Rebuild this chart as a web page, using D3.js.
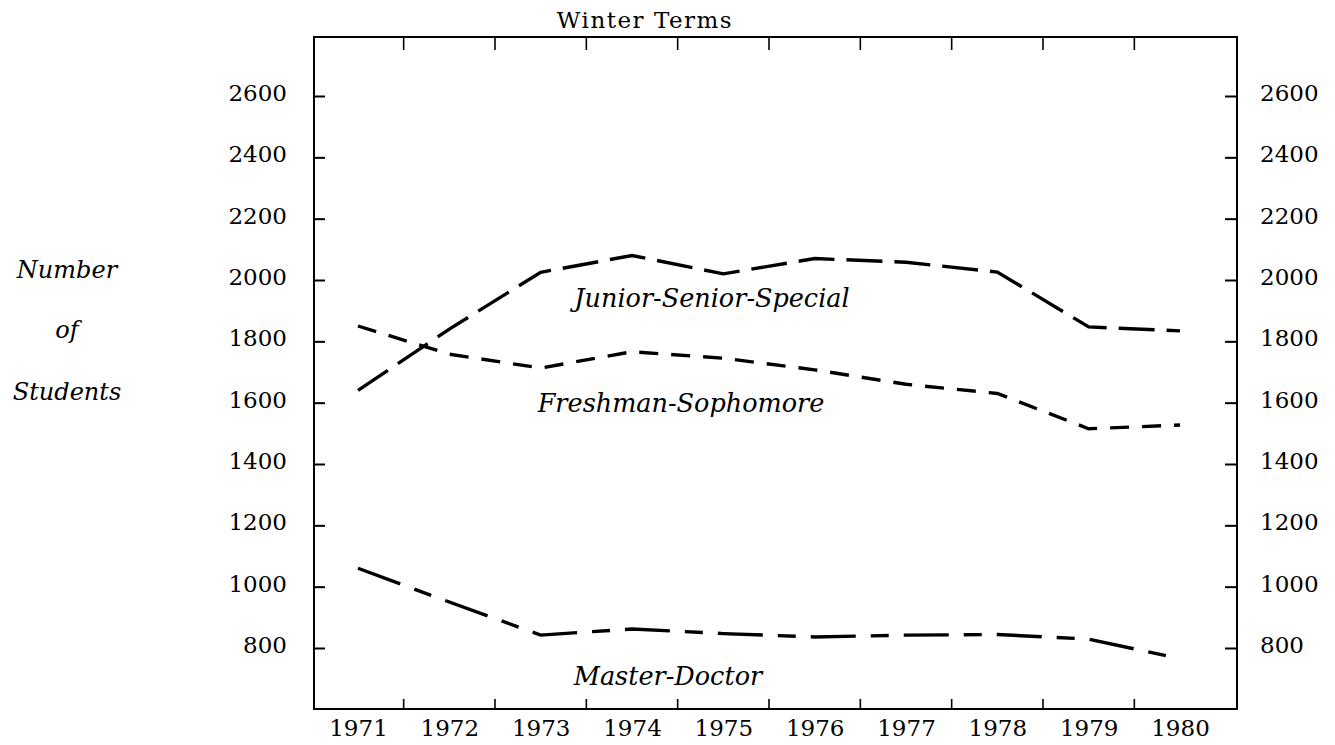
<!DOCTYPE html>
<html>
<head>
<meta charset="utf-8">
<script src="https://cdn.jsdelivr.net/npm/d3@7"></script>
<style>
  html, body { margin: 0; padding: 0; background: #fff; }
  svg { display: block; }
</style>
</head>
<body>
<svg id="chart" width="1335" height="745"></svg>
<script>
// ---- data ----
const years = [1971, 1972, 1973, 1974, 1975, 1976, 1977, 1978, 1979, 1980];
const juniorSeniorSpecial = [1640, 1840, 2025, 2080, 2020, 2070, 2058, 2026, 1847, 1834];
const freshmanSophomore   = [1850, 1758, 1713, 1766, 1745, 1707, 1660, 1630, 1515, 1527];
const masterDoctor        = [1060, 950, 842, 862, 847, 836, 842, 844, 829, 765];
const yTickValues = [800, 1000, 1200, 1400, 1600, 1800, 2000, 2200, 2400, 2600];
const seriesNames = ["Junior-Senior-Special", "Freshman-Sophomore", "Master-Doctor"];
const chartTitle = "Winter Terms";
const yTitle = ["Number", "of", "Students"];

// ---- layout ----
const frame = { left: 314, right: 1237, top: 37, bottom: 709 };
const svg = d3.select("#chart");
const serif = "'DejaVu Serif', serif";

const x = d3.scalePoint().domain(years).range([358, 1180]);
const y = d3.scaleLinear().domain([800, 2600]).range([648, 96]);

// frame
svg.append("rect")
  .attr("x", frame.left).attr("y", frame.top)
  .attr("width", frame.right - frame.left).attr("height", frame.bottom - frame.top)
  .attr("fill", "none").attr("stroke", "#000").attr("stroke-width", 2);

// boundary ticks (between years) on top and bottom
const bounds = years.slice(1).map((yr, i) => (x(years[i]) + x(yr)) / 2);
svg.append("g").selectAll("line").data(bounds).join("line")
  .attr("x1", d => d).attr("x2", d => d)
  .attr("y1", frame.top).attr("y2", frame.top + 13)
  .attr("stroke", "#000").attr("stroke-width", 1.6);
svg.append("g").selectAll("line").data(bounds).join("line")
  .attr("x1", d => d).attr("x2", d => d)
  .attr("y1", frame.bottom).attr("y2", frame.bottom - 10)
  .attr("stroke", "#000").attr("stroke-width", 1.6);

// bottom year labels
const xAxis = svg.append("g")
  .attr("transform", `translate(0,${frame.bottom})`)
  .call(d3.axisBottom(x).tickSize(0).tickPadding(11));
xAxis.select(".domain").remove();
xAxis.selectAll("text").attr("font-family", serif).attr("font-size", 23).attr("fill", "#000");

// left axis
const yl = svg.append("g")
  .attr("transform", `translate(${frame.left},0)`)
  .call(d3.axisLeft(y).tickValues(yTickValues).tickSize(-11).tickPadding(27).tickFormat(d3.format("d")));
yl.select(".domain").remove();
yl.selectAll("line").attr("stroke", "#000").attr("stroke-width", 2);
yl.selectAll("text").attr("font-family", serif).attr("font-size", 23).attr("fill", "#000").attr("dy", "0.2em");

// right axis
const yr = svg.append("g")
  .attr("transform", `translate(${frame.right},0)`)
  .call(d3.axisRight(y).tickValues(yTickValues).tickSize(-12).tickPadding(23).tickFormat(d3.format("d")));
yr.select(".domain").remove();
yr.selectAll("line").attr("stroke", "#000").attr("stroke-width", 2);
yr.selectAll("text").attr("font-family", serif).attr("font-size", 23).attr("fill", "#000").attr("dy", "0.2em");

// title
svg.append("text")
  .attr("x", 645).attr("y", 28).attr("text-anchor", "middle")
  .attr("font-family", serif).attr("font-size", 23).attr("letter-spacing", 1.5)
  .text(chartTitle);

// y title (italic, stacked)
const yTitleY = [278, 338, 400];
svg.append("g").selectAll("text").data(yTitle).join("text")
  .attr("x", 67).attr("y", (d, i) => yTitleY[i]).attr("text-anchor", "middle")
  .attr("font-family", serif).attr("font-style", "italic").attr("font-size", 24)
  .text(d => d);

// lines
const seriesData = [juniorSeniorSpecial, freshmanSophomore, masterDoctor];
const dashes = ["36,12", "19,13", "45,15,18,15"];
const line = d3.line().x((d, i) => x(years[i])).y(d => y(d));
svg.append("g").selectAll("path").data(seriesData).join("path")
  .attr("d", line)
  .attr("fill", "none").attr("stroke", "#000").attr("stroke-width", 3.4)
  .attr("stroke-dasharray", (d, i) => dashes[i]);

// series labels
const labelPos = [[712, 307], [681, 412], [668, 685]];
svg.append("g").selectAll("text").data(seriesNames).join("text")
  .attr("x", (d, i) => labelPos[i][0]).attr("y", (d, i) => labelPos[i][1])
  .attr("text-anchor", "middle")
  .attr("font-family", serif).attr("font-style", "italic").attr("font-size", 25.5)
  .text(d => d);
</script>
</body>
</html>
